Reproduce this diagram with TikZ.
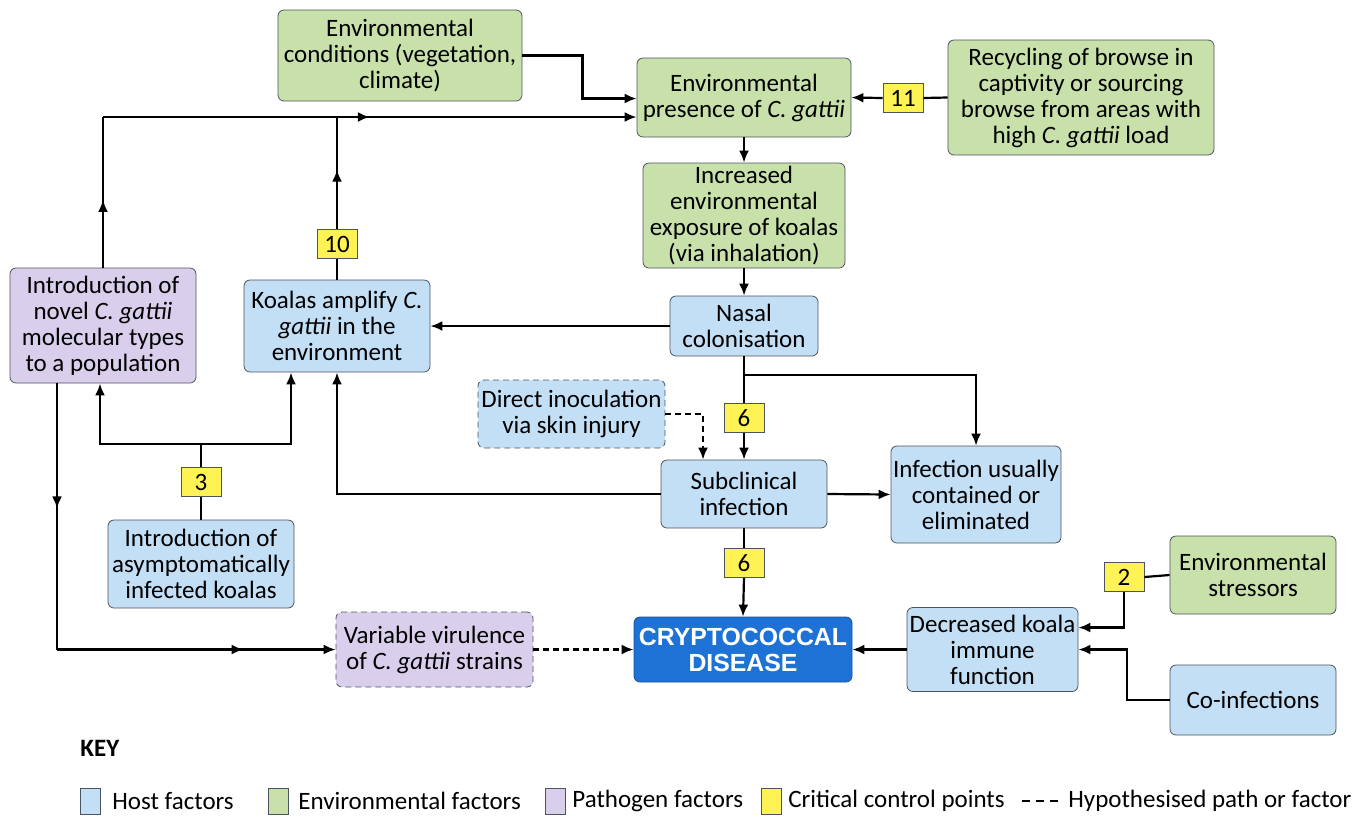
\documentclass[tikz,border=0pt]{standalone}
\usepackage{fontspec}
\setmainfont{Carlito}
\newfontfamily\headfont{Liberation Sans}
\usetikzlibrary{arrows.meta,decorations.markings}

\definecolor{hostblue}{RGB}{195,223,246}
\definecolor{envgreen}{RGB}{200,225,170}
\definecolor{pathpurple}{RGB}{217,207,236}
\definecolor{ccpyellow}{RGB}{255,242,84}
\definecolor{disblue}{RGB}{30,114,214}
\definecolor{edgegray}{RGB}{75,85,95}

\tikzset{
	box/.style={draw=edgegray, rounded corners=3pt, align=center, inner sep=1pt,
		font=\fontsize{12.5}{13}\selectfont},
	host/.style={box, fill=hostblue},
	envf/.style={box, fill=envgreen},
	pathf/.style={box, fill=pathpurple},
	hypo/.style={dash pattern=on 3pt off 2pt},
	ccp/.style={draw=edgegray, fill=ccpyellow, inner sep=0pt, minimum width=20pt,
		minimum height=14.5pt, font=\fontsize{12.5}{13}\selectfont},
	link/.style={line width=1.1pt},
	arr/.style={link, -{Latex[length=6pt,width=5pt]}},
	midarr/.style={postaction={decorate}, decoration={markings,
		mark=at position #1 with {\arrow{Latex[length=6pt,width=5pt]}}}},
	keytext/.style={right, inner sep=0pt, font=\fontsize{12.5}{13}\selectfont}
}

\begin{document}
\begin{tikzpicture}[x=0.5pt, y=-0.5pt]
			\useasboundingbox (0,0) rectangle (1364,816);

			% environment
			\node [envf, minimum width=122pt, minimum height=45.5pt](envcond) at (400,55.5) {Environmental\\conditions (vegetation,\\climate)};
			\node [envf, minimum width=107pt, minimum height=39.5pt](envpres) at (744,97.5) {Environmental\\presence of \textit{C. gattii}};
			\node [envf, minimum width=133pt, minimum height=57.5pt](recyc) at (1081,97.5) {Recycling of browse in\\captivity or sourcing\\browse from areas with\\high \textit{C. gattii} load};
			\node [envf, minimum width=101pt, minimum height=52.5pt](exposure) at (744,215.5) {Increased\\environmental\\exposure of koalas\\(via inhalation)};
			\node [envf, minimum width=83pt, minimum height=39pt](stress) at (1253,575) {Environmental\\stressors};

			% host
			\node [host, minimum width=74pt, minimum height=30pt](nasal) at (744,326) {Nasal\\colonisation};
			\node [host, minimum width=93pt, minimum height=46pt](amplify) at (337,326) {Koalas amplify \textit{C.}\\\textit{gattii} in the\\environment};
			\node [host, hypo, minimum width=93.5pt, minimum height=34pt](direct) at (571.5,414) {Direct inoculation\\via skin injury};
			\node [host, minimum width=83pt, minimum height=34pt](subcl) at (744,494) {Subclinical\\infection};
			\node [host, minimum width=85pt, minimum height=48.5pt](contained) at (976,494.5) {Infection usually\\contained or\\eliminated};
			\node [host, minimum width=93pt, minimum height=44pt](asym) at (201,564) {Introduction of\\asymptomatically\\infected koalas};
			\node [host, minimum width=85.5pt, minimum height=42pt](immune) at (992.5,649.5) {Decreased koala\\immune\\function};
			\node [host, minimum width=83pt, minimum height=35pt](coinf) at (1253,700) {Co-infections};

			% pathogen
			\node [pathf, minimum width=93pt, minimum height=57.5pt](novel) at (103,325.5) {Introduction of\\novel \textit{C. gattii}\\molecular types\\to a population};
			\node [pathf, hypo, minimum width=98.5pt, minimum height=37.5pt](virulence) at (434.5,649.5) {Variable virulence\\of \textit{C. gattii} strains};

			\node [box, draw=disblue!70!black, fill=disblue, text=white, minimum width=109pt, minimum height=32.5pt,
				font=\headfont\bfseries\fontsize{12.4}{13}\selectfont](disease) at (743,649.5) {CRYPTOCOCCAL\\DISEASE};

			% control points
			\node [ccp](c11) at (903,98) {11};
			\node [ccp](c10) at (337,244) {10};
			\node [ccp](c6a) at (744,418) {6};
			\node [ccp](c6b) at (744,563) {6};
			\node [ccp](c3) at (201,482) {3};
			\node [ccp](c2) at (1124,577) {2};

			\coordinate (top) at (337,117);
			\coordinate (split) at (744,375);
			\coordinate (fork) at (201,444);
			\coordinate (vcorner) at (57,649.5);

			\draw [arr](envcond.east) -- ++(60,0) |- ([yshift=-0.5pt]envpres.west);
			\draw [link, midarr=0.45](novel.north) -- (novel.north |- top);
			\draw [arr, midarr=0.5](novel.north |- top) -- (envpres.west |- top);
			\draw [link](amplify.north) -- (c10.south);
			\draw [link, midarr=0.53](c10.north) -- (top);

			\draw [link](recyc.west) -- (c11.east);
			\draw [arr](c11.west) -- (envpres.east);

			\draw [arr](envpres.south) -- (exposure.north);
			\draw [arr](exposure.south) -- (nasal.north);
			\draw [arr](nasal.west) -- (amplify.east);

			\draw [link](nasal.south) -- (c6a.north);
			\draw [arr](c6a.south) -- (subcl.north);
			\draw [arr](split) -| (contained.north);
			\draw [arr, hypo](direct.east) -| ([xshift=-20.5pt]subcl.north);

			\draw [arr](subcl.west) -| (amplify.south);
			\draw [arr](subcl.east) -- (contained.west);
			\draw [link](subcl.south) -- (c6b.north);
			\draw [arr](c6b.south) -- (disease.north);

			\draw [link](asym.north) -- (c3.south);
			\draw [link](c3.north) -- (fork);
			\draw [arr](fork) -| ([xshift=-1.5pt]novel.south);
			\draw [arr](fork) -| ([xshift=-23pt]amplify.south);

			\draw [link, midarr=0.47]([xshift=-23pt]novel.south) -- (vcorner);
			\draw [arr, midarr=0.67](vcorner) -- (virulence.west);
			\draw [arr, hypo](virulence.east) -- (disease.west);

			\draw [link](stress.west) -- (c2.east);
			\draw [arr](c2.south) |- ([yshift=11pt]immune.east);
			\draw [arr](coinf.west) -- ++(-43,0) |- (immune.east);
			\draw [arr](immune.west) -- (disease.east);

			% key
			\node [keytext, font=\fontsize{12.5}{13}\selectfont\bfseries](key) at (80,748) {KEY};
			\node [draw=edgegray, fill=hostblue, minimum width=10pt, minimum height=13pt, inner sep=0pt](khost) at (90,801) {};
			\node [keytext](lhost) at (112,801) {Host factors};
			\node [draw=edgegray, fill=envgreen, minimum width=10pt, minimum height=13pt, inner sep=0pt](kenv) at (278,801) {};
			\node [keytext](lenv) at (298,801) {Environmental factors};
			\node [draw=edgegray, fill=pathpurple, minimum width=10pt, minimum height=13pt, inner sep=0pt](kpath) at (555,801) {};
			\node [keytext](lpath) at (572,801) {Pathogen factors};
			\node [draw=edgegray, fill=ccpyellow, minimum width=10pt, minimum height=13pt, inner sep=0pt](kccp) at (771,801) {};
			\node [keytext](lccp) at (788,801) {Critical control points};
			\coordinate (kd1) at (1022,801);
			\coordinate (kd2) at (1058,801);
			\draw [link, dash pattern=on 4pt off 3pt](kd1) -- (kd2);
			\node [keytext](lhypo) at (1068,801) {Hypothesised path or factor};

		\end{tikzpicture}
\end{document}
